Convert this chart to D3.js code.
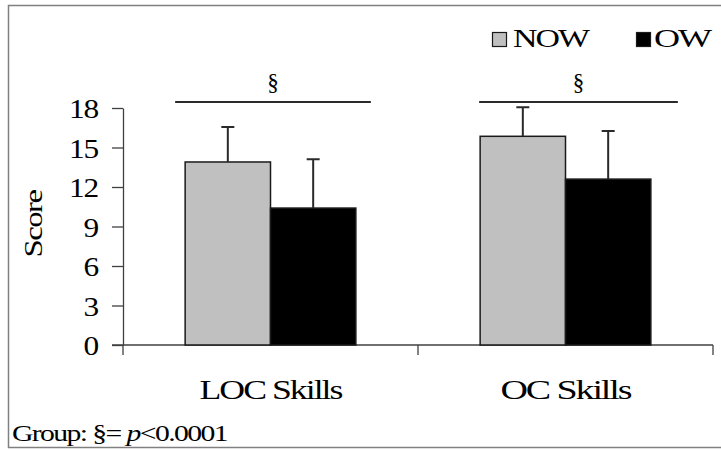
<!DOCTYPE html>
<html>
<head>
<meta charset="utf-8">
<script src="https://cdn.jsdelivr.net/npm/d3@7"></script>
<style>
  html, body { margin: 0; padding: 0; background: #fff; }
  svg { display: block; }
  text { font-family: "Liberation Serif", "Times New Roman", serif; fill: #000; }
</style>
</head>
<body>
<svg id="chart" width="721" height="450"></svg>
<script>
// Skill scores by group (mean and SD)
const categories = ["LOC Skills", "OC Skills"];
const series = ["NOW", "OW"];
const meanNOW = [13.9, 15.85];
const meanOW = [10.4, 12.6];
const sdNOW = [2.65, 2.2];
const sdOW = [3.7, 3.65];
const yTicks = [0, 3, 6, 9, 12, 15, 18];
const sigMarks = ["§", "§"];
const yTitle = "Score";

const colors = { NOW: "#c0c0c0", OW: "#000000" };

const svg = d3.select("#chart");

// place a tightly set text so that it spans a given width, widening the glyphs
function wideText(parent, str, cx, by, size, width, anchor, rotate, spacing) {
  const t = parent.append("text")
    .attr("font-size", size)
    .attr("letter-spacing", spacing == null ? -1.5 : spacing)
    .text(str);
  const natural = t.node().getComputedTextLength();
  const k = width / natural;
  const off = anchor === "middle" ? -natural / 2 : 0;
  t.attr("x", off).attr("y", 0)
    .attr("transform", `translate(${cx},${by})${rotate ? ` rotate(${rotate})` : ""} scale(${k},1)`);
  return t;
}

// outer frame (right edge runs past the canvas)
svg.append("rect")
  .attr("x", 8.5).attr("y", 5.5)
  .attr("width", 722).attr("height", 442)
  .attr("fill", "none").attr("stroke", "#808080").attr("stroke-width", 1.5);

const plot = { left: 123, right: 713, top: 108, bottom: 345 };

const x0 = d3.scaleBand().domain(categories).range([plot.left, plot.right]).padding(0);
const x1 = d3.scaleBand().domain(series).range([0, x0.bandwidth()])
  .paddingInner(0).paddingOuter(0.728);
const y = d3.scaleLinear().domain([0, 18]).range([plot.bottom, plot.top]);

const rows = categories.map((c, i) => ({
  cat: c,
  vals: [
    { s: "NOW", m: meanNOW[i], sd: sdNOW[i] },
    { s: "OW", m: meanOW[i], sd: sdOW[i] }
  ]
}));

// y axis
const yAxis = svg.append("g")
  .attr("transform", `translate(${plot.left},0)`)
  .call(d3.axisLeft(y).tickValues(yTicks).tickSize(11).tickPadding(14).tickSizeOuter(0));
yAxis.select(".domain").attr("stroke", "#404040").attr("stroke-width", 1.3);
yAxis.selectAll(".tick line").attr("stroke", "#404040").attr("stroke-width", 1.3);
yAxis.selectAll(".tick text")
  .attr("font-size", 28)
  .attr("letter-spacing", -1)
  .attr("dy", "0.34em")
  .style("font-family", '"Liberation Serif", serif')
  .attr("fill", "#000")
  .attr("transform", function () {
    // widen digits a little about their right edge
    const xr = +d3.select(this).attr("x");
    return `translate(${xr},0) scale(1.12,1) translate(${-xr},0)`;
  });

// x axis: line at zero with ticks at category boundaries
const xg = svg.append("g");
xg.append("line")
  .attr("x1", plot.left - 11).attr("x2", plot.right)
  .attr("y1", y(0)).attr("y2", y(0))
  .attr("stroke", "#404040").attr("stroke-width", 1.3);
const bounds = categories.map(c => x0(c)).concat([x0(categories[categories.length - 1]) + x0.bandwidth()]);
xg.selectAll("line.bt").data(bounds).join("line")
  .attr("class", "bt")
  .attr("x1", d => d).attr("x2", d => d)
  .attr("y1", y(0)).attr("y2", y(0) + 10)
  .attr("stroke", "#404040").attr("stroke-width", 1.3);

// category labels
const catWidths = { "LOC Skills": 142, "OC Skills": 130 };
categories.forEach(c => {
  wideText(svg, c, x0(c) + x0.bandwidth() / 2, 399, 27, catWidths[c], "middle");
});

// bars
const groups = svg.selectAll("g.grp").data(rows).join("g")
  .attr("class", "grp")
  .attr("transform", d => `translate(${x0(d.cat)},0)`);

groups.selectAll("rect").data(d => d.vals).join("rect")
  .attr("x", d => x1(d.s))
  .attr("width", x1.bandwidth())
  .attr("y", d => y(d.m))
  .attr("height", d => y(0) - y(d.m))
  .attr("fill", d => colors[d.s])
  .attr("stroke", "#1a1a1a").attr("stroke-width", 1.5);

// upper error bars
const cap = 13;
groups.selectAll("path.err").data(d => d.vals).join("path")
  .attr("class", "err")
  .attr("d", d => {
    const cx = x1(d.s) + x1.bandwidth() / 2;
    const yt = y(d.m + d.sd);
    return `M${cx},${y(d.m)}V${yt}M${cx - cap / 2},${yt}H${cx + cap / 2}`;
  })
  .attr("fill", "none").attr("stroke", "#2a2a2a").attr("stroke-width", 2);

// group significance brackets
const sigSpan = [[-10, 15], [-1, 27]];
categories.forEach((c, i) => {
  const gx0 = x0(c) + x1("NOW") + sigSpan[i][0];
  const gx1 = x0(c) + x1("OW") + x1.bandwidth() + sigSpan[i][1];
  svg.append("line")
    .attr("x1", gx0).attr("x2", gx1)
    .attr("y1", 102).attr("y2", 102)
    .attr("stroke", "#2a2a2a").attr("stroke-width", 2);
  svg.append("text")
    .attr("x", (gx0 + gx1) / 2).attr("y", 90)
    .attr("text-anchor", "middle")
    .attr("font-size", 23)
    .text(sigMarks[i]);
});

// y axis title
wideText(svg, yTitle, 42, 224, 26, 67, "middle", -90, -1.2);

// legend
const legendItems = [
  { s: "NOW", sx: 492, tx: 513, w: 75 },
  { s: "OW", sx: 636, tx: 654, w: 56 }
];
legendItems.forEach(it => {
  svg.append("rect")
    .attr("x", it.sx + 0.5).attr("y", 32.5)
    .attr("width", 14).attr("height", 14)
    .attr("fill", colors[it.s]).attr("stroke", "#1a1a1a").attr("stroke-width", 1.2);
  wideText(svg, it.s, it.tx, 47, 26, it.w, "start");
});

// footnote
const note = svg.append("text").attr("font-size", 24).attr("letter-spacing", -1.3);
note.append("tspan").text("Group: §= ");
note.append("tspan").attr("font-style", "italic").text("p");
note.append("tspan").text("<0.0001");
{
  const natural = note.node().getComputedTextLength();
  note.attr("x", 0).attr("y", 0)
    .attr("transform", `translate(12,441) scale(${215 / natural},1)`);
}
</script>
</body>
</html>
